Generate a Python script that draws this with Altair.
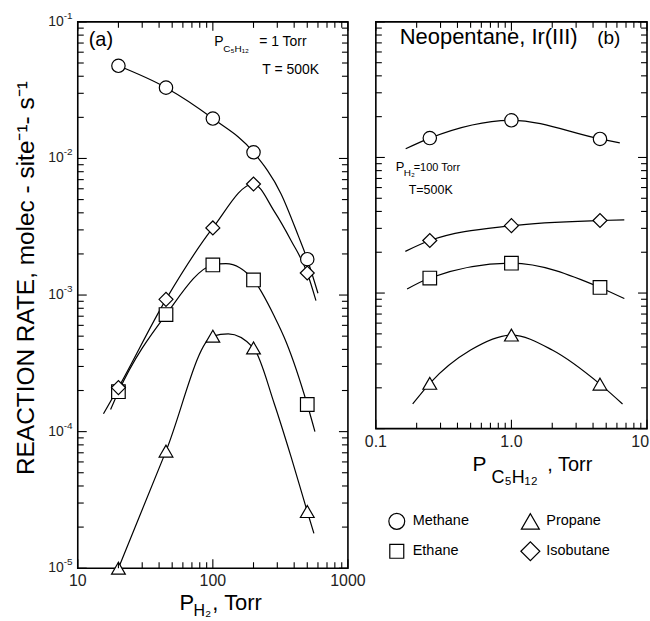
import math
import altair as alt
import pandas as pd

# ---------------- data ----------------
series = ["Methane", "Ethane", "Propane", "Isobutane"]
shapes = ["circle", "square", "triangle-up", "diamond"]
marker_sizes = [180, 196, 324, 320]
legend_sizes = [254, 196, 324, 361]

# (a) rate vs P_H2 (P_C5H12 = 1 Torr, T = 500 K)
ph2 = [20, 45, 100, 200, 500]
a_methane = [0.0477, 0.033, 0.0196, 0.0111, 0.00183]
a_ethane = [1.96e-4, 7.2e-4, 1.66e-3, 1.29e-3, 1.58e-4]
a_propane = [1.0e-5, 7.2e-5, 5.0e-4, 4.1e-4, 2.6e-5]
a_isobutane = [2.1e-4, 9.3e-4, 3.1e-3, 6.5e-3, 1.45e-3]

# (a) drawn curves
a_methane_cx = [20, 45, 100, 200, 320, 430, 500, 600]
a_methane_cy = [0.0477, 0.033, 0.0196, 0.0111, 0.0055, 0.0027, 0.00183, 0.00103]
a_ethane_cx = [17.5, 20, 45, 100, 125, 200, 285, 350, 500, 570]
a_ethane_cy = [1.45e-4, 1.96e-4, 7.2e-4, 1.66e-3, 1.7e-3, 1.29e-3, 7.0e-4, 4.5e-4, 1.58e-4, 1.0e-4]
a_propane_cx = [20, 45, 100, 130, 200, 285, 380, 500, 560]
a_propane_cy = [1.0e-5, 7.2e-5, 5.0e-4, 5.2e-4, 4.1e-4, 1.6e-4, 6.5e-5, 2.6e-5, 1.8e-5]
a_isobutane_cx = [15.5, 20, 45, 100, 200, 285, 380, 500, 580]
a_isobutane_cy = [1.35e-4, 2.1e-4, 9.3e-4, 3.1e-3, 6.5e-3, 4.1e-3, 2.5e-3, 1.45e-3, 9.1e-4]

# (b) rate vs P_C5H12 (neopentane on Ir(III), P_H2 = 100 Torr, T = 500 K)
pc5 = [0.25, 1.0, 4.5]
b_methane = [0.0139, 0.0188, 0.0137]
b_ethane = [1.29e-3, 1.66e-3, 1.10e-3]
b_propane = [2.16e-4, 4.9e-4, 2.13e-4]
b_isobutane = [2.44e-3, 3.14e-3, 3.43e-3]

b_methane_cx = [0.166, 0.25, 1.0, 4.5, 6.3]
b_methane_cy = [0.0116, 0.0139, 0.0188, 0.0137, 0.0128]
b_ethane_cx = [0.17, 0.25, 1.0, 4.5, 6.8]
b_ethane_cy = [1.07e-3, 1.29e-3, 1.66e-3, 1.10e-3, 9.1e-4]
b_propane_cx = [0.187, 0.25, 0.5, 1.0, 2.0, 4.5, 6.6]
b_propane_cy = [1.52e-4, 2.16e-4, 3.8e-4, 4.9e-4, 3.8e-4, 2.13e-4, 1.52e-4]
b_isobutane_cx = [0.165, 0.25, 1.0, 4.5, 6.8]
b_isobutane_cy = [2.03e-3, 2.44e-3, 3.14e-3, 3.43e-3, 3.47e-3]

# tick values and labels
a_x_major = [10, 100, 1000]
a_x_labels = ["10", "100", "1000"]
a_y_major = [1e-5, 1e-4, 1e-3, 1e-2, 1e-1]
a_y_exp = ["-5", "-4", "-3", "-2", "-1"]
b_x_major = [0.1, 1.0, 10]
b_x_labels = ["0.1", "1.0", "10"]
b_y_major = [1e-4, 1e-3, 1e-2, 1e-1]


def long_df(pairs):
    rows = []
    for name, (xs, ys) in zip(series, pairs):
        for x, y in zip(xs, ys):
            rows.append({"series": name, "x": x, "y": y})
    return pd.DataFrame(rows)


pts_a = long_df([(ph2, a_methane), (ph2, a_ethane), (ph2, a_propane), (ph2, a_isobutane)])
pts_b = long_df([(pc5, b_methane), (pc5, b_ethane), (pc5, b_propane), (pc5, b_isobutane)])
crv_a = long_df([(a_methane_cx, a_methane_cy), (a_ethane_cx, a_ethane_cy),
                 (a_propane_cx, a_propane_cy), (a_isobutane_cx, a_isobutane_cy)])
crv_b = long_df([(b_methane_cx, b_methane_cy), (b_ethane_cx, b_ethane_cy),
                 (b_propane_cx, b_propane_cy), (b_isobutane_cx, b_isobutane_cy)])

# ---------------- styling helpers ----------------
FONT = "Liberation Sans"
MAJ_LEN, MIN_LEN = 9, 6


def minor_ticks(majors):
    out = []
    for m in majors[:-1]:
        e = round(math.log10(m))
        for k in range(2, 10):
            out.append(float(f"{k}e{e}"))
    return out


def txt(s, x, y, size, align="left", baseline="alphabetic", angle=0, font=FONT, color="black"):
    return alt.Chart(alt.Data(values=[{"t": s}])).mark_text(
        font=font, fontSize=size, align=align, baseline=baseline,
        angle=angle, color=color
    ).encode(x=alt.value(x), y=alt.value(y), text="t:N")


def tick_layers(vals, length, scale, channel, w, h):
    df = pd.DataFrame({"v": vals})
    base = alt.Chart(df).mark_rule(color="black", strokeWidth=1.1)
    if channel == "x":
        enc = alt.X("v:Q", scale=scale, axis=None)
        return [base.encode(x=enc, y=alt.value(h), y2=alt.value(h - length)),
                base.encode(x=enc, y=alt.value(0), y2=alt.value(length))]
    enc = alt.Y("v:Q", scale=scale, axis=None)
    return [base.encode(y=enc, x=alt.value(0), x2=alt.value(length)),
            base.encode(y=enc, x=alt.value(w), x2=alt.value(w - length))]


def x_labels(vals, labels, scale, h, aligns=None):
    layers = []
    for i, (v, lab) in enumerate(zip(vals, labels)):
        al = aligns[i] if aligns else "center"
        dx = 2 if al == "right" else 0
        layers.append(
            alt.Chart(alt.Data(values=[{"v": v, "t": lab}])).mark_text(
                font=FONT, fontSize=16, align=al, baseline="top", dx=dx, color="#222"
            ).encode(x=alt.X("v:Q", scale=scale, axis=None), y=alt.value(h + 5), text="t:N")
        )
    return layers


def y_labels(vals, exps, scale):
    df = pd.DataFrame({"v": vals, "base": ["10"] * len(vals), "e": exps})
    base = alt.Chart(df).mark_text(font=FONT, fontSize=14, align="right",
                                   baseline="middle", dx=-14, color="#222").encode(
        y=alt.Y("v:Q", scale=scale, axis=None), x=alt.value(0), text="base:N")
    sup = alt.Chart(df).mark_text(font=FONT, fontSize=10, align="left",
                                  baseline="middle", dx=-14, dy=-6, color="#222").encode(
        y=alt.Y("v:Q", scale=scale, axis=None), x=alt.value(0), text="e:N")
    return [base, sup]


shape_enc = alt.Shape("series:N", scale=alt.Scale(domain=series, range=shapes), legend=None)
size_enc = alt.Size("series:N", scale=alt.Scale(domain=series, range=marker_sizes), legend=None)


def panel(pts, crv, xscale, yscale, xmaj, ymaj, extra, w, h):
    lines = alt.Chart(crv).mark_line(interpolate="monotone", color="black", strokeWidth=1.2).encode(
        x=alt.X("x:Q", scale=xscale, axis=None),
        y=alt.Y("y:Q", scale=yscale, axis=None),
        detail="series:N",
    )
    marks = alt.Chart(pts).mark_point(filled=True, fill="white", stroke="black",
                                      strokeWidth=1.2, opacity=1).encode(
        x=alt.X("x:Q", scale=xscale, axis=None),
        y=alt.Y("y:Q", scale=yscale, axis=None),
        shape=shape_enc, size=size_enc,
    )
    ticks = (tick_layers(xmaj, MAJ_LEN, xscale, "x", w, h)
             + tick_layers(minor_ticks(xmaj), MIN_LEN, xscale, "x", w, h)
             + tick_layers(ymaj, MAJ_LEN, yscale, "y", w, h)
             + tick_layers(minor_ticks(ymaj), MIN_LEN, yscale, "y", w, h))
    return alt.layer(lines, marks, *ticks, *extra).properties(width=w, height=h)


# ---------------- panel (a) ----------------
xs_a = alt.Scale(type="log", domain=[10, 1000], nice=False)
ys_a = alt.Scale(type="log", domain=[1e-5, 1e-1], nice=False)
extra_a = x_labels(a_x_major, a_x_labels, xs_a, 548) + y_labels(a_y_major, a_y_exp, ys_a) + [
    txt("(a)", 11, 24, 20),
    txt("P", 137, 24, 14),
    txt("C\u2085H\u2081\u2082", 146, 30, 10),
    txt("= 1 Torr", 182, 24, 14),
    txt("T = 500K", 242, 52, 14, align="right"),
    txt("REACTION RATE, molec - site\u207b\u00b9- s\u207b\u00b9", -51, 257, 24.5,
        align="center", baseline="middle", angle=270),
    txt("P", 102, 590, 22),
    txt("H\u2082", 116, 596, 16),
    txt(", Torr", 135, 590, 22),
]
left = panel(pts_a, crv_a, xs_a, ys_a, a_x_major, a_y_major, extra_a, 271, 548)

# ---------------- panel (b) ----------------
xs_b = alt.Scale(type="log", domain=[0.1, 10], nice=False)
ys_b = alt.Scale(type="log", domain=[1e-4, 1e-1], nice=False)
extra_b = x_labels(b_x_major, b_x_labels, xs_b, 408, ["center", "center", "right"]) + [
    txt("Neopentane, Ir(III)", 24, 22, 22),
    txt("(b)", 222, 22, 19),
    txt("P", 20, 150, 13),
    txt("H\u2082", 28, 155, 10),
    txt("=100 Torr", 38, 150, 11),
    txt("T=500K", 33, 173, 12.5),
    txt("P", 97, 450, 21),
    txt("C\u2085H\u2081\u2082", 116, 463, 18),
    txt(", Torr", 172, 450, 20),
]
leg_pos = [(21, 501), (21, 531), (155, 501), (155, 531)]
for name, shp, sz, (lx, ly) in zip(series, shapes, legend_sizes, leg_pos):
    extra_b.append(
        alt.Chart(alt.Data(values=[{}])).mark_point(
            shape=shp, size=sz, filled=True, fill="white", stroke="black",
            strokeWidth=1.2, opacity=1
        ).encode(x=alt.value(lx), y=alt.value(ly))
    )
    extra_b.append(txt(name, lx + 16, ly, 14.5, baseline="middle"))

right = panel(pts_b, crv_b, xs_b, ys_b, b_x_major, b_y_major, extra_b, 272, 408)

chart = alt.hconcat(left, right, spacing=-3).properties(
    padding={"left": 13, "top": 9, "right": 0, "bottom": 0}
).configure_view(stroke="black", strokeWidth=1.6)

chart.save("out.html", embed_options={"renderer": "svg", "actions": False})
